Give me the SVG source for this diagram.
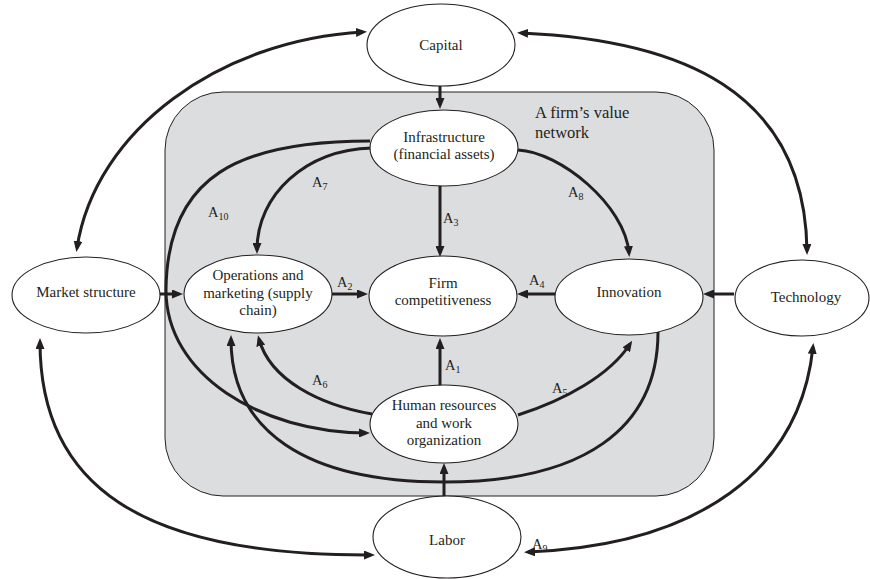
<svg xmlns="http://www.w3.org/2000/svg" width="870" height="579" viewBox="0 0 870 579">
<defs>
<style>
.node ellipse{fill:#fff;stroke:#231f20;stroke-width:1.1}
.node text,.lbl,.title{font-family:"Liberation Serif","Times New Roman",serif;fill:#231f20}
.node text{font-size:15px;text-anchor:middle}
.lbl{font-size:14.5px}
.sub{font-size:10px}
.title{font-size:16.5px}
.conn path{fill:none;stroke:#231f20;stroke-width:3;marker-end:url(#ah)}
.conn path.both{marker-start:url(#ah)}
</style>
<marker id="ah" markerUnits="userSpaceOnUse" markerWidth="11" markerHeight="9" viewBox="0 0 11 9" refX="7" refY="4.5" orient="auto-start-reverse">
<path d="M0,0 L11,4.5 L0,9 z" fill="#231f20"/>
</marker>
</defs>
<rect x="165" y="92" width="549" height="404" rx="58" ry="58" fill="#dcdddf" stroke="#231f20" stroke-width="1"/>
<text class="title" x="535" y="118">A firm’s value</text>
<text class="title" x="535" y="138">network</text>

<g id="connectors" class="conn">
<path d="M440,86 L440,105"/>
<path d="M440,186 L440,253"/>
<path d="M372,148 C305,150 257,195 257,250"/>
<path d="M370,141 C240,141 167,175 166,290 C166,375 260,432 366,433"/>
<path d="M160,294 L179,294"/>
<path d="M332,294 L364,294"/>
<path d="M555,294 L521,294"/>
<path d="M734,294 L707,294"/>
<path d="M518,150 C560,152 625,205 629,253"/>
<path d="M440,386 L440,342"/>
<path d="M372,414 C320,405 270,380 259,339"/>
<path d="M518,415 C565,400 610,375 630,344"/>
<path d="M658,332 C658,429 583,482 444,482 C306,482 231,431 231,339"/>
<path d="M444,497 L444,467"/>
<path class="both" d="M363,32 C220,40 95,130 77,248"/>
<path class="both" d="M521,33 C680,40 805,90 807,251"/>
<path class="both" d="M40,342 C40,485 140,556 371,555"/>
<path class="both" d="M813,347 C800,470 700,545 528,552"/>
</g>

<g id="capital" class="node"><ellipse cx="441" cy="45" rx="74" ry="41"/><text x="441" y="50">Capital</text></g>
<g id="infrastructure" class="node"><ellipse cx="444" cy="148" rx="74" ry="38"/><text x="444" y="142">Infrastructure</text><text x="444" y="159">(financial assets)</text></g>
<g id="market" class="node"><ellipse cx="86" cy="295" rx="74" ry="38"/><text x="86" y="297">Market structure</text></g>
<g id="operations" class="node"><ellipse cx="258" cy="294" rx="74" ry="39"/><text x="258" y="280">Operations and</text><text x="258" y="298">marketing (supply</text><text x="258" y="315">chain)</text></g>
<g id="firm" class="node"><ellipse cx="443" cy="296" rx="74" ry="40"/><text x="443" y="288">Firm</text><text x="443" y="305">competitiveness</text></g>
<g id="innovation" class="node"><ellipse cx="629" cy="297" rx="74" ry="38"/><text x="629" y="297">Innovation</text></g>
<g id="technology" class="node"><ellipse cx="802" cy="298" rx="67" ry="38"/><text x="806" y="302">Technology</text></g>
<g id="human" class="node"><ellipse cx="444" cy="424" rx="74" ry="39"/><text x="444" y="410">Human resources</text><text x="444" y="428">and work</text><text x="444" y="445">organization</text></g>
<g id="labor" class="node"><ellipse cx="447" cy="537" rx="74" ry="41"/><text x="447" y="545">Labor</text></g>

<g id="labels">
<text class="lbl" x="312" y="187">A<tspan class="sub" dy="3">7</tspan></text>
<text class="lbl" x="208" y="217">A<tspan class="sub" dy="3">10</tspan></text>
<text class="lbl" x="443" y="223">A<tspan class="sub" dy="3">3</tspan></text>
<text class="lbl" x="568" y="197">A<tspan class="sub" dy="3">8</tspan></text>
<text class="lbl" x="337" y="287">A<tspan class="sub" dy="3">2</tspan></text>
<text class="lbl" x="529" y="285">A<tspan class="sub" dy="3">4</tspan></text>
<text class="lbl" x="445" y="370">A<tspan class="sub" dy="3">1</tspan></text>
<text class="lbl" x="312" y="385">A<tspan class="sub" dy="3">6</tspan></text>
<text class="lbl" x="552" y="393">A<tspan class="sub" dy="3">5</tspan></text>
<text class="lbl" x="532" y="549">A<tspan class="sub" dy="3">9</tspan></text>
</g>
</svg>
